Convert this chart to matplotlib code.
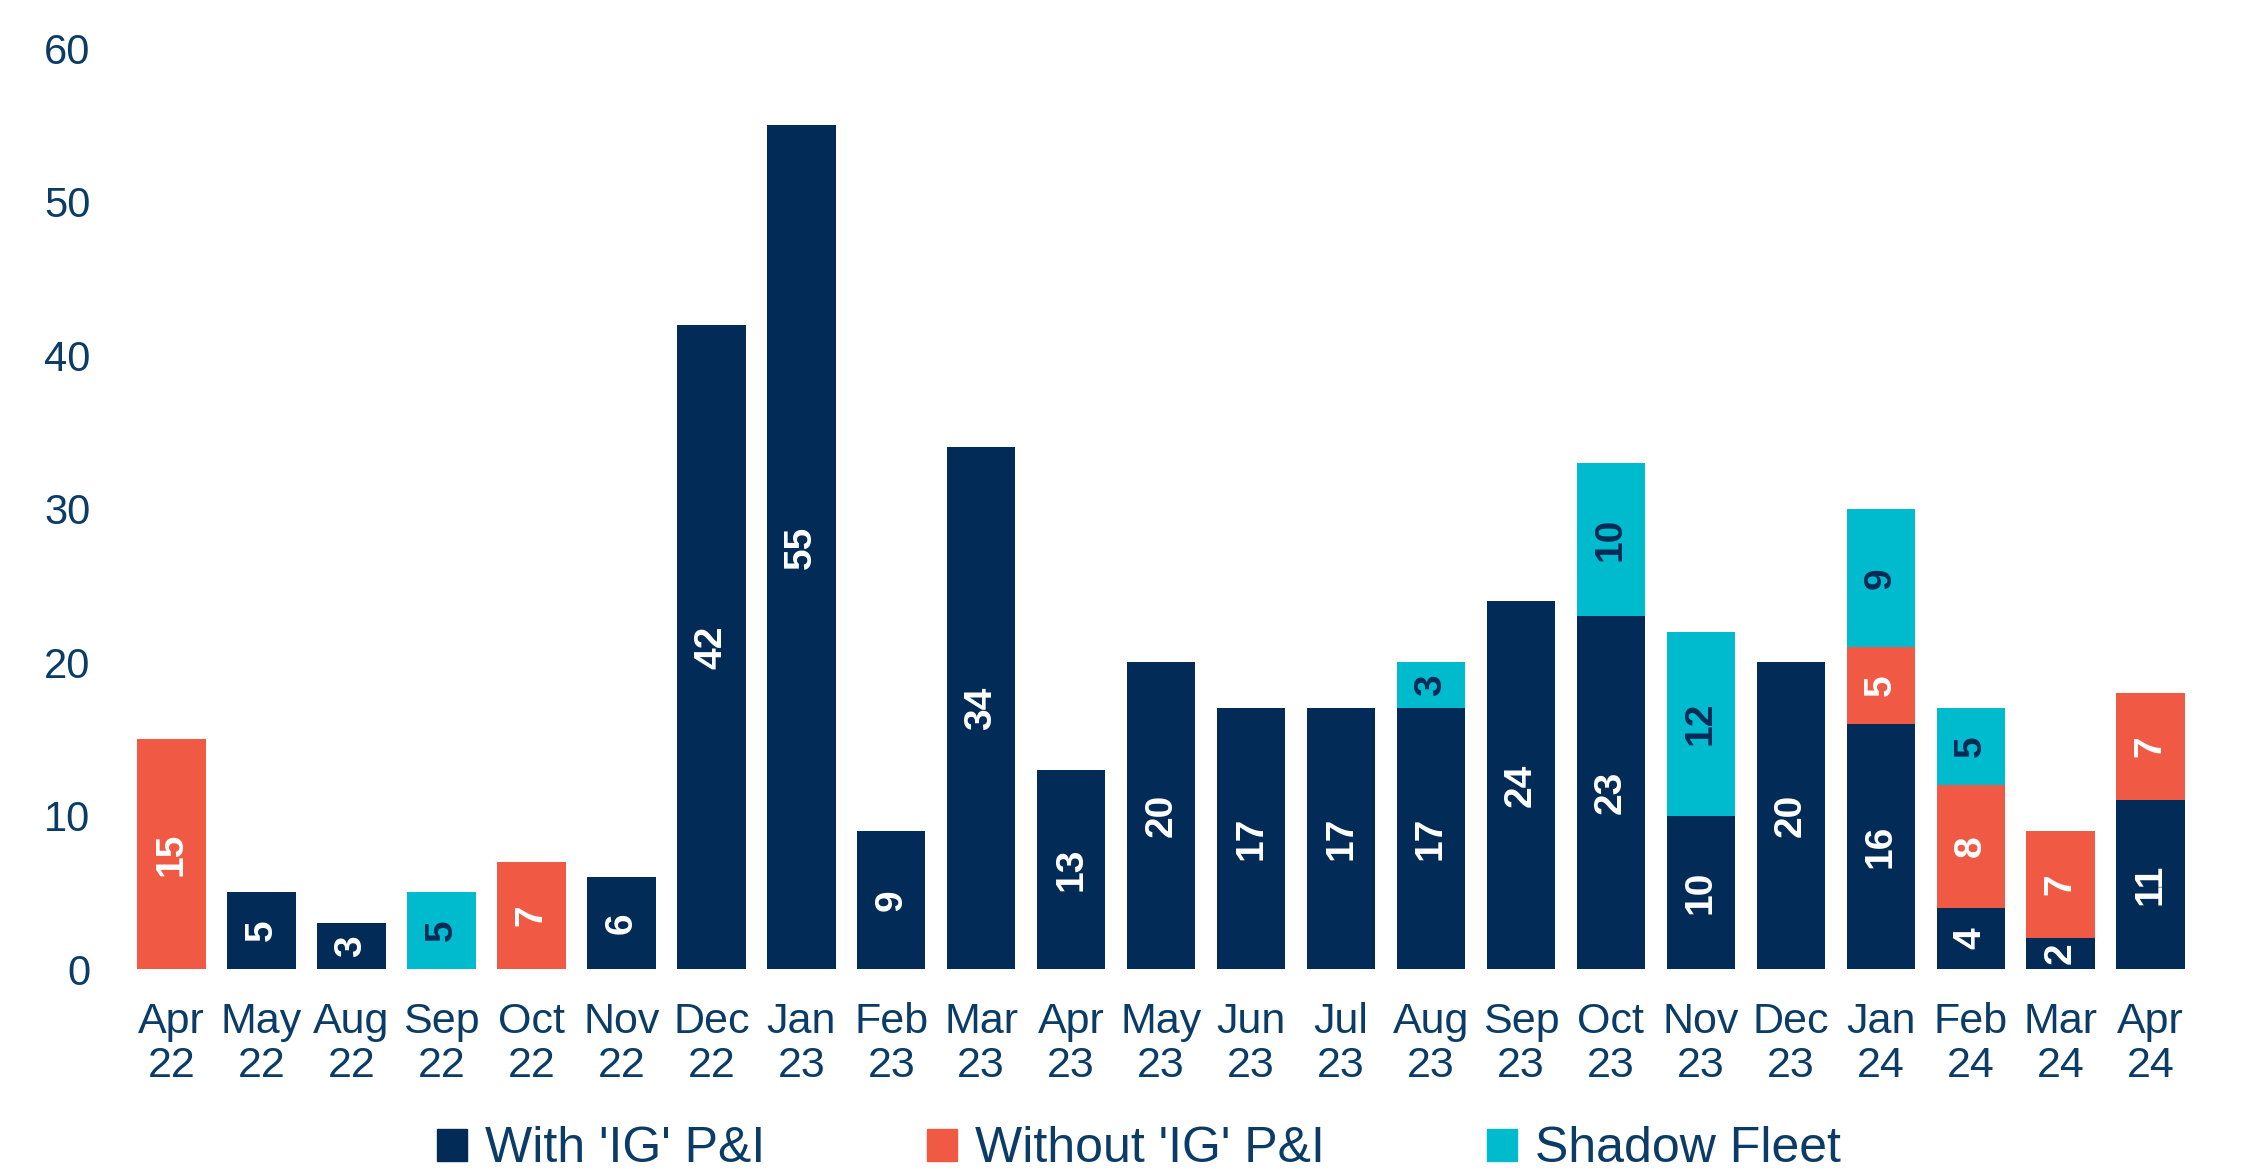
import matplotlib
matplotlib.use("Agg")
import matplotlib.pyplot as plt
from matplotlib.patches import Patch
import numpy as np

months = ["Apr\n22", "May\n22", "Aug\n22", "Sep\n22", "Oct\n22", "Nov\n22", "Dec\n22",
          "Jan\n23", "Feb\n23", "Mar\n23", "Apr\n23", "May\n23", "Jun\n23", "Jul\n23",
          "Aug\n23", "Sep\n23", "Oct\n23", "Nov\n23", "Dec\n23", "Jan\n24", "Feb\n24",
          "Mar\n24", "Apr\n24"]
with_ig = [0, 5, 3, 0, 0, 6, 42, 55, 9, 34, 13, 20, 17, 17, 17, 24, 23, 10, 20, 16, 4, 2, 11]
without_ig = [15, 0, 0, 0, 7, 0, 0, 0, 0, 0, 0, 0, 0, 0, 0, 0, 0, 0, 0, 5, 8, 7, 7]
shadow = [0, 0, 0, 5, 0, 0, 0, 0, 0, 0, 0, 0, 0, 0, 3, 0, 10, 12, 0, 9, 5, 0, 0]
series_names = ["With 'IG' P&I", "Without 'IG' P&I", "Shadow Fleet"]
yticks = [0, 10, 20, 30, 40, 50, 60]

NAVY = "#022B58"
RED = "#F05A44"
CYAN = "#00BACD"
TEXT = "#0B3C68"
FONT = ["Liberation Sans", "DejaVu Sans"]

fig = plt.figure(figsize=(22.42, 11.71), dpi=100)
ax = fig.add_axes([0.0565, 0.1725, 0.9228, 0.786])

x = np.arange(len(months))
width = 0.76
series = [(with_ig, NAVY, "white"), (without_ig, RED, "white"), (shadow, CYAN, NAVY)]
bottom = np.zeros(len(months))
for (vals, color, txt_color), name in zip(series, series_names):
    vals = np.array(vals, dtype=float)
    ax.bar(x, vals, width, bottom=bottom, color=color, label=name, linewidth=0)
    for xi, b, v in zip(x, bottom, vals):
        if v > 0:
            ax.text(xi, b + v / 2, f"{int(v)}", rotation=90, ha="center", va="center",
                    color=txt_color, fontsize=28, fontweight="bold", family=FONT)
    bottom += vals

ax.set_xlim(-0.5, len(months) - 0.5)
ax.set_ylim(0, 60)
ax.set_yticks(yticks)
ax.set_xticks(x)
ax.set_xticklabels(months, fontsize=31, color=TEXT, family=FONT, linespacing=1.12)
for lab in ax.get_yticklabels():
    lab.set_fontsize(30)
    lab.set_color(TEXT)
    lab.set_family(FONT)
ax.tick_params(axis="both", length=0)
ax.tick_params(axis="x", pad=24)
ax.tick_params(axis="y", pad=26)
for s in ax.spines.values():
    s.set_visible(False)

handles = [Patch(color=c) for c in (NAVY, RED, CYAN)]
leg = fig.legend(handles, series_names, loc="center", bbox_to_anchor=(0.508, 0.0185),
                 ncol=3, frameon=False, handlelength=0.6, handleheight=0.6,
                 handletextpad=0.35, columnspacing=3.25, borderpad=0.1,
                 prop={"family": FONT, "size": 36})
for t in leg.get_texts():
    t.set_color(TEXT)

fig.savefig("out.png", dpi=100)
